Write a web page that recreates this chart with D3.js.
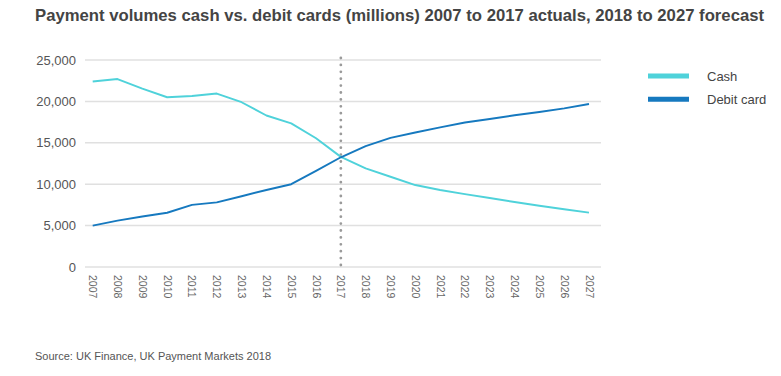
<!DOCTYPE html>
<html>
<head>
<meta charset="utf-8">
<script src="https://cdn.jsdelivr.net/npm/d3@7"></script>
<style>
  body { margin: 0; background: #fff; }
  svg { display: block; font-family: "Liberation Sans", Arial, Helvetica, sans-serif; }
  .title { font-size: 16.7px; font-weight: bold; fill: #444; }
  .tick-y { font-size: 13px; fill: #555; }
  .tick-x { font-size: 10.5px; fill: #666; }
  .legend { font-size: 13px; fill: #444; }
  .source { font-size: 11px; fill: #555; }
</style>
</head>
<body>
<div id="chart"></div>
<script>
const years= d3.range(2007, 2028);
const cash= [22400, 22700, 21550, 20500, 20650, 20950, 19900, 18300, 17350, 15550, 13300,
  11900, 10900, 9900, 9300, 8800, 8330, 7850, 7400, 6970, 6560];
const debit= [5000, 5600, 6100, 6550, 7500, 7800, 8550, 9300, 10000, 11600, 13250,
  14600, 15600, 16250, 16870, 17450, 17870, 18320, 18720, 19160, 19690];
const yTicks= [0, 5000, 10000, 15000, 20000, 25000];
const seriesDefs= [
  { label: 'Cash', color: '#4fd2da', vals: cash },
  { label: 'Debit card', color: '#1679bf', vals: debit },
];
const splitYear= 2017;

const W= 781, H= 376;
const svg= d3.select('#chart').append('svg').attr('width', W).attr('height', H);

const xSc= d3.scalePoint().domain(years).range([92.7, 589]);
const ySc= d3.scaleLinear().domain([0, 25000]).range([267, 60]);
const gridX0= 85, gridX1= 601;

svg.append('text')
  .attr('class', 'title')
  .attr('x', 35).attr('y', 21)
  .text('Payment volumes cash vs. debit cards (millions) 2007 to 2017 actuals, 2018 to 2027 forecast');

// gridlines
svg.append('g').selectAll('line').data(yTicks).join('line')
  .attr('x1', gridX0).attr('x2', gridX1)
  .attr('y1', d => ySc(d)).attr('y2', d => ySc(d))
  .attr('stroke', '#e0e0e0').attr('stroke-width', 1.5);

svg.append('g').selectAll('text').data(yTicks).join('text')
  .attr('class', 'tick-y')
  .attr('x', 76).attr('y', d => ySc(d)+4.5)
  .attr('text-anchor', 'end')
  .text(d => d3.format(',')(d));

// x labels, rotated
svg.append('g').selectAll('text').data(years).join('text')
  .attr('class', 'tick-x')
  .attr('transform', d => `translate(${xSc(d)-3.5},275) rotate(90)`)
  .text(d => d);

// forecast divider
svg.append('line')
  .attr('x1', xSc(splitYear)).attr('x2', xSc(splitYear))
  .attr('y1', 58).attr('y2', ySc(0))
  .attr('stroke', '#9a9a9a').attr('stroke-width', 2.8)
  .attr('stroke-linecap', 'round')
  .attr('stroke-dasharray', '0,6.9');

const line= d3.line()
  .x((d, i) => xSc(years[i]))
  .y(d => ySc(d));

for (const s of seriesDefs) {
  svg.append('path')
    .attr('d', line(s.vals))
    .attr('fill', 'none')
    .attr('stroke', s.color)
    .attr('stroke-width', 1.9)
    .attr('stroke-linejoin', 'round');
}

// legend
seriesDefs.forEach((s, i) => {
  const ly= 76+i*23.3;
  svg.append('line')
    .attr('x1', 648).attr('x2', 689)
    .attr('y1', ly).attr('y2', ly)
    .attr('stroke', s.color).attr('stroke-width', 5);
  svg.append('text')
    .attr('class', 'legend')
    .attr('x', 707).attr('y', ly+5)
    .text(s.label);
});

svg.append('text')
  .attr('class', 'source')
  .attr('x', 35).attr('y', 360)
  .text('Source: UK Finance, UK Payment Markets 2018');
</script>
</body>
</html>
